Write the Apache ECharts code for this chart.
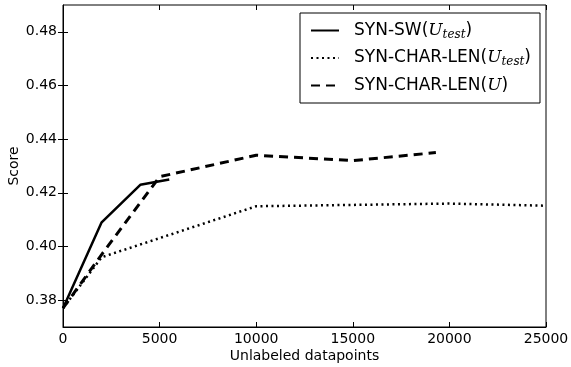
<!DOCTYPE html>
<html><head><meta charset="utf-8">
<script src="https://cdn.jsdelivr.net/npm/echarts@6/dist/echarts.min.js"></script>
<style>html,body{margin:0;padding:0;background:#fff}#c{width:571px;height:367px}</style>
</head><body><div id="c"></div>
<script>
// Data
const swX = [0, 2000, 4000, 5500];
const swY = [0.377, 0.409, 0.423, 0.425];
const clTestX = [0, 2000, 10000, 15000, 20000, 25000];
const clTestY = [0.377, 0.396, 0.415, 0.4155, 0.416, 0.4152];
const clX = [0, 2000, 5000, 10000, 15000, 19300];
const clY = [0.377, 0.397, 0.426, 0.434, 0.432, 0.435];
const xTicks = [0, 5000, 10000, 15000, 20000, 25000];
const yTicks = [0.38, 0.40, 0.42, 0.44, 0.46, 0.48];

const pairs = (xs, ys) => xs.map((x, i) => [x, ys[i]]);
const F = 'DejaVu Sans';
const chart = echarts.init(document.getElementById('c'), null, {renderer: 'canvas'});
const tickInside = {show: true, inside: true, length: 5, lineStyle: {color: '#000', width: 1}};
const names = ['SYN-SW(U_test)', 'SYN-CHAR-LEN(U_test)', 'SYN-CHAR-LEN(U)'];
const legendFmt = {
  'SYN-SW(U_test)': '{n|SYN-SW(}{i|U}{s|test}{n|)}',
  'SYN-CHAR-LEN(U_test)': '{n|SYN-CHAR-LEN(}{i|U}{s|test}{n|)}',
  'SYN-CHAR-LEN(U)': '{n|SYN-CHAR-LEN(}{i|U}{n|)}'
};
chart.setOption({
  animation: false,
  backgroundColor: '#fff',
  grid: {left: 63, right: 25, top: 5, bottom: 40, show: true, borderColor: '#000', borderWidth: 1,
         containLabel: false, outerBoundsMode: 'none'},
  xAxis: [{
    type: 'value', min: 0, max: 25000, interval: 5000, position: 'bottom',
    name: 'Unlabeled datapoints', nameLocation: 'middle', nameGap: 22, nameMoveOverlap: false,
    nameTextStyle: {fontFamily: F, fontSize: 14, color: '#000'},
    axisLine: {show: true, lineStyle: {color: '#000'}},
    axisTick: Object.assign({customValues: xTicks}, tickInside), splitLine: {show: false},
    axisLabel: {customValues: xTicks, fontFamily: F, fontSize: 14, color: '#000', margin: 5,
      formatter: v => String(v)}
  }, {
    type: 'value', min: 0, max: 25000, interval: 5000, position: 'top',
    axisLine: {show: false}, axisTick: Object.assign({customValues: xTicks}, tickInside),
    axisLabel: {show: false}, splitLine: {show: false}
  }],
  yAxis: [{
    type: 'value', min: 0.37, max: 0.49, position: 'left',
    name: 'Score', nameLocation: 'middle', nameGap: 42, nameRotate: 90, nameMoveOverlap: false,
    nameTextStyle: {fontFamily: F, fontSize: 14, color: '#000'},
    axisLine: {show: true, lineStyle: {color: '#000'}},
    axisTick: Object.assign({customValues: yTicks}, tickInside), splitLine: {show: false},
    axisLabel: {customValues: yTicks, fontFamily: F, fontSize: 14, color: '#000', margin: 6,
      formatter: v => v.toFixed(2)}
  }, {
    type: 'value', min: 0.37, max: 0.49, position: 'right',
    axisLine: {show: false}, axisTick: Object.assign({customValues: yTicks}, tickInside),
    axisLabel: {show: false}, splitLine: {show: false}
  }],
  legend: {
    orient: 'vertical', left: 300, top: 13,
    padding: [9, 9, 9, 10], itemGap: 9, itemWidth: 28, itemHeight: 14,
    backgroundColor: '#fff', borderColor: '#000', borderWidth: 1, borderRadius: 0,
    data: names,
    itemStyle: {opacity: 0},
    formatter: n => legendFmt[n],
    textStyle: {
      padding: [0, 0, 0, 10],
      rich: {
        n: {fontFamily: F, fontSize: 17, color: '#000'},
        i: {fontFamily: 'DejaVu Serif', fontStyle: 'italic', fontSize: 17, color: '#000'},
        s: {fontFamily: 'DejaVu Serif', fontStyle: 'italic', fontSize: 12, color: '#000', padding: [8, 0, 0, 0]}
      }
    }
  },
  series: [
    {name: names[0], type: 'line', data: pairs(swX, swY), symbol: 'none', showSymbol: false,
     lineStyle: {color: '#000', width: 2.5, type: 'solid'}, itemStyle: {color: '#000'}, z: 3},
    {name: names[1], type: 'line', data: pairs(clTestX, clTestY), symbol: 'none', showSymbol: false,
     lineStyle: {color: '#000', width: 2.5, type: [2, 3.5]}, itemStyle: {color: '#000'}, z: 2},
    {name: names[2], type: 'line', data: pairs(clX, clY), symbol: 'none', showSymbol: false,
     lineStyle: {color: '#000', width: 3, type: [9, 6]}, itemStyle: {color: '#000'}, z: 2}
  ]
});
</script></body></html>
